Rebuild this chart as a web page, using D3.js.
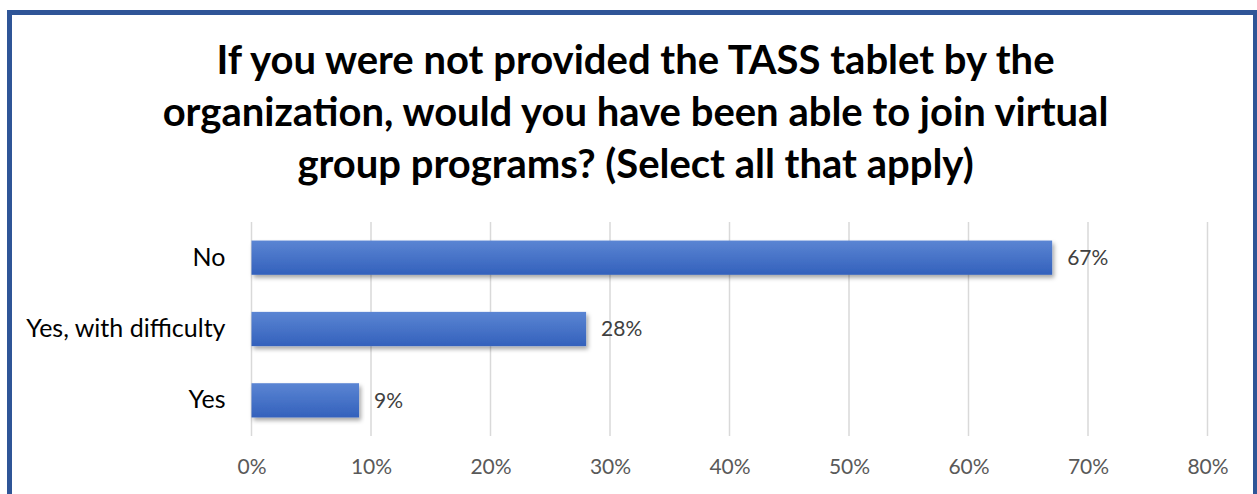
<!DOCTYPE html>
<html>
<head>
<meta charset="utf-8">
<script src="https://cdn.jsdelivr.net/npm/d3@7"></script>
<style>
  html, body { margin: 0; padding: 0; background: #fff; }
  svg { display: block; }
</style>
</head>
<body>
<svg id="chart" width="1257" height="494"></svg>
<script>
// Survey answers and their shares (percent)
const categories = ["No", "Yes, with difficulty", "Yes"];
const values = [67, 28, 9];
const tickValues = [0, 10, 20, 30, 40, 50, 60, 70, 80];
const titleLines = [
  "If you were not provided the TASS tablet by the",
  "organization, would you have been able to join virtual",
  "group programs? (Select all that apply)"
];

const W = 1257, H = 494;
const svg = d3.select("#chart");
const FONT = "Lato, 'Open Sans', sans-serif";

// Gradient fill and drop shadow for the bars
const defs = svg.append("defs");
const grad = defs.append("linearGradient")
  .attr("id", "barFill").attr("x1", 0).attr("y1", 0).attr("x2", 0).attr("y2", 1);
grad.append("stop").attr("offset", "0%").attr("stop-color", "#5B85D3");
grad.append("stop").attr("offset", "100%").attr("stop-color", "#3361BC");
const shadow = defs.append("filter").attr("id", "barShadow")
  .attr("x", "-5%").attr("y", "-30%").attr("width", "110%").attr("height", "180%");
shadow.append("feDropShadow")
  .attr("dx", 2).attr("dy", 3).attr("stdDeviation", 2.2)
  .attr("flood-color", "#000").attr("flood-opacity", 0.35);

// Outer frame
svg.append("rect")
  .attr("x", 9.5).attr("y", 12.5)
  .attr("width", 1246).attr("height", 500)
  .attr("fill", "#fff")
  .attr("stroke", "#2F5597").attr("stroke-width", 5);

// Title
const title = svg.append("text")
  .attr("text-anchor", "middle")
  .attr("font-family", FONT).attr("font-weight", 700)
  .attr("font-size", 40).attr("fill", "#000");
titleLines.forEach((line, i) => {
  title.append("tspan").attr("x", 635.5).attr("y", 74 + i * 52).text(line);
});

// Scales
const x = d3.scaleLinear().domain([0, 80]).range([251.5, 1207.5]);
const y = d3.scaleBand().domain(categories).range([222, 436]).paddingInner(0.52).paddingOuter(0.26);

// Vertical gridlines
svg.append("g").selectAll("line")
  .data(tickValues).join("line")
  .attr("x1", d => x(d)).attr("x2", d => x(d))
  .attr("y1", 222).attr("y2", 436)
  .attr("stroke", "#D9D9D9").attr("stroke-width", 1.5);

// Bottom axis labels
const xAxis = d3.axisBottom(x).tickValues(tickValues).tickFormat(d => d + "%").tickSize(0).tickPadding(0);
const gx = svg.append("g").attr("transform", "translate(0,459)").call(xAxis);
gx.select(".domain").remove();
gx.selectAll("text")
  .attr("font-family", FONT).attr("font-size", 21).attr("fill", "#595959");

// Category axis labels
const yAxis = d3.axisLeft(y).tickSize(0).tickPadding(26);
const gy = svg.append("g").attr("transform", `translate(${x(0)},0)`).call(yAxis);
gy.select(".domain").remove();
gy.selectAll("text")
  .attr("font-family", FONT).attr("font-size", 25).attr("fill", "#000");

// Bars
svg.append("g").selectAll("rect")
  .data(values).join("rect")
  .attr("x", x(0))
  .attr("y", (d, i) => y(categories[i]))
  .attr("width", d => x(d) - x(0))
  .attr("height", y.bandwidth())
  .attr("fill", "url(#barFill)")
  .attr("filter", "url(#barShadow)");

// Value labels
svg.append("g").selectAll("text")
  .data(values).join("text")
  .attr("x", d => x(d) + 15)
  .attr("y", (d, i) => y(categories[i]) + y.bandwidth() / 2)
  .attr("dy", "0.35em")
  .attr("font-family", FONT).attr("font-size", 21).attr("fill", "#404040")
  .text(d => d + "%");
</script>
</body>
</html>
